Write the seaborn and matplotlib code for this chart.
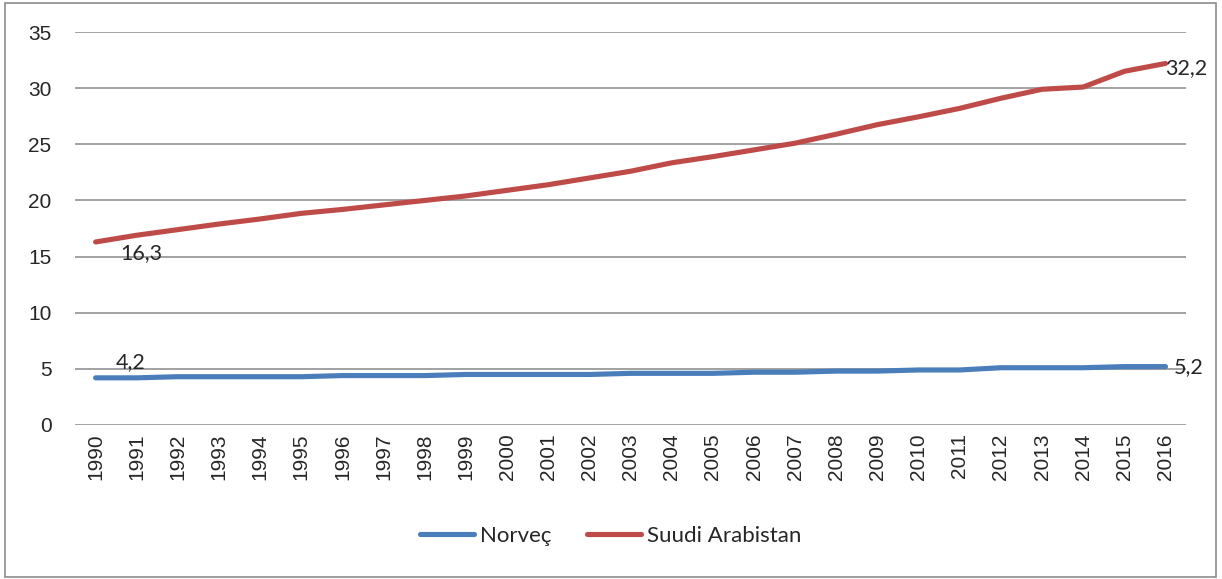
import pandas as pd
import matplotlib
matplotlib.use('Agg')
import matplotlib.pyplot as plt
import seaborn as sns
from matplotlib.patches import Rectangle

years = list(range(1990, 2017))
norvec = [4.2, 4.2, 4.3, 4.3, 4.3, 4.3, 4.4, 4.4, 4.4, 4.5, 4.5, 4.5, 4.5, 4.6,
          4.6, 4.6, 4.7, 4.7, 4.8, 4.8, 4.9, 4.9, 5.1, 5.1, 5.1, 5.2, 5.2]
suudi = [16.3, 16.9, 17.4, 17.9, 18.35, 18.85, 19.2, 19.6, 20.0, 20.4, 20.9, 21.4,
         22.0, 22.6, 23.35, 23.9, 24.5, 25.1, 25.9, 26.75, 27.45, 28.2, 29.1,
         29.9, 30.1, 31.5, 32.2]
series_names = ['Norveç', 'Suudi Arabistan']
colors = ['#4a7ebb', '#be4b48']

df = pd.DataFrame({
    'pos': list(range(len(years))) * 2,
    'value': norvec + suudi,
    'series': [series_names[0]] * len(years) + [series_names[1]] * len(years),
})

sns.set_style('white')
plt.rcParams['font.family'] = ['Liberation Sans', 'DejaVu Sans']

fig = plt.figure(figsize=(12.22, 5.79), dpi=100)
ax = fig.add_axes([0.0614, 0.266, 0.9092, 0.6787])

sns.lineplot(data=df, x='pos', y='value', hue='series', palette=colors,
             linewidth=3.7, ax=ax, legend=False, solid_capstyle='round')

ax.set_xlim(-0.5, len(years) - 0.5)
ax.set_ylim(0, 35)
ax.set_yticks(range(0, 36, 5))
ax.set_xticks(range(len(years)))
ax.set_xticklabels([str(y) for y in years], rotation=90, fontsize=15)
ax.tick_params(axis='y', labelsize=15, length=0, pad=17)
ax.tick_params(axis='x', length=0, pad=6)
ax.set_xlabel('')
ax.set_ylabel('')
ax.grid(axis='y', color='#878787', linewidth=1.1)
ax.set_axisbelow(True)
for s in ax.spines.values():
    s.set_visible(False)

# data labels
lab_font = ['Lato', 'DejaVu Sans']
ax.annotate('16,3', (0, suudi[0]), xytext=(33, -8), textcoords='offset points',
            ha='center', va='center', fontsize=15.5, family=lab_font)
ax.annotate('4,2', (0, norvec[0]), xytext=(25, 11), textcoords='offset points',
            ha='center', va='center', fontsize=15.5, family=lab_font)
ax.annotate('32,2', (len(years) - 1, suudi[-1]), xytext=(0, -3), textcoords='offset points',
            ha='left', va='center', fontsize=15.5, family=lab_font, annotation_clip=False)
ax.annotate('5,2', (len(years) - 1, norvec[-1]), xytext=(6, 0), textcoords='offset points',
            ha='left', va='center', fontsize=15.5, family=lab_font, annotation_clip=False)

handles = [plt.Line2D([], [], color=c, linewidth=3.7, solid_capstyle='round') for c in colors]
fig.legend(handles, series_names, loc='center', bbox_to_anchor=(0.5, 0.074), ncol=2,
           frameon=False, handlelength=2.4, columnspacing=1.6, handletextpad=0.3,
           prop={'family': lab_font, 'size': 16})

fig.patches.append(Rectangle((0.004, 0.003), 0.991, 0.992, transform=fig.transFigure,
                             fill=False, edgecolor='#8c8c8c', linewidth=1.2))

fig.savefig('out.png', dpi=100)
